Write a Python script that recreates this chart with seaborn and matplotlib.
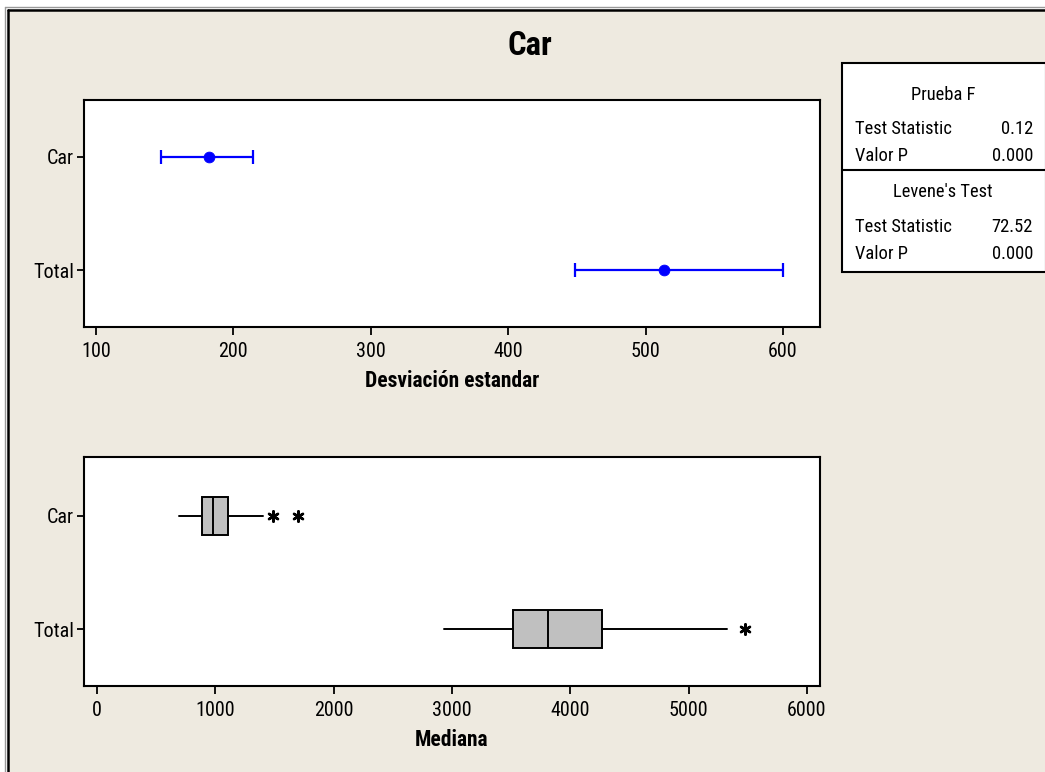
import matplotlib
matplotlib.use("Agg")
import matplotlib.pyplot as plt
import seaborn as sns
import numpy as np
import pandas as pd
from matplotlib.patches import Rectangle
from matplotlib.lines import Line2D
from matplotlib import font_manager

# ---------------- data ----------------
groups = ["Car", "Total"]
sd_point = [182.0, 513.5]
sd_lower = [147.0, 449.0]
sd_upper = [214.5, 600.0]

box_whislo = [693, 2932]
box_q1 = [890, 3518]
box_med = [983, 3814]
box_q3 = [1110, 4265]
box_whishi = [1400, 5324]
outliers_car = [1484, 1696]
outliers_total = [5476]

sd_ticks = [100, 200, 300, 400, 500, 600]
med_ticks = [0, 1000, 2000, 3000, 4000, 5000, 6000]

table_rows = [("Test Statistic", "0.12"), ("Valor P", "0.000"),
              ("Test Statistic", "72.52"), ("Valor P", "0.000")]

# ---------------- style ----------------
sns.set_style("ticks")
names = {f.name for f in font_manager.fontManager.ttflist}
cond = [n for n in ["Liberation Sans Narrow", "DejaVu Sans Condensed", "Roboto Condensed"] if n in names]
FONT = cond + ["DejaVu Sans"]
plt.rcParams["font.family"] = FONT
plt.rcParams["font.stretch"] = "condensed"
for k in ["text.color", "axes.labelcolor", "xtick.color", "ytick.color"]:
    plt.rcParams[k] = "black"
BG = "#EEEAE0"
W, H = 1045, 772
fig = plt.figure(figsize=(W / 100, H / 100), dpi=100, facecolor="white")

def fx(px):
    return px / W

def fy(py):
    return 1 - py / H

# background panel with frame
fig.patches.append(Rectangle((fx(8), 0), 1 - fx(8), fy(10), transform=fig.transFigure,
                             facecolor=BG, edgecolor="none", zorder=-10))
fig.lines.append(Line2D([fx(8), fx(8)], [0, fy(10)], transform=fig.transFigure, color="black", lw=1.8))
fig.lines.append(Line2D([fx(8), 1], [fy(10), fy(10)], transform=fig.transFigure, color="black", lw=1.8))
fig.lines.append(Line2D([fx(5), fx(5)], [0, fy(7)], transform=fig.transFigure, color="#999999", lw=1.0))
fig.lines.append(Line2D([fx(5), 1], [fy(7), fy(7)], transform=fig.transFigure, color="#999999", lw=1.0))

fig.text(fx(530), fy(46), "Car", ha="center", va="center", fontsize=23.5, fontweight="bold")

TICK_FS = 14.5

def style_axes(ax):
    ax.set_facecolor("white")
    for s in ax.spines.values():
        s.set_linewidth(1.5)
        s.set_color("black")
        s.set_visible(True)
    ax.tick_params(axis="both", direction="out", width=1.3, colors="black", labelsize=TICK_FS)
    ax.tick_params(axis="x", length=6, pad=5)
    ax.tick_params(axis="y", length=5, pad=2)

# ---------------- top: SD confidence intervals ----------------
ax1 = fig.add_axes([fx(84), fy(327), fx(820) - fx(84), fy(100) - fy(327)])
style_axes(ax1)
ypos = np.arange(len(groups))
sd_point_a = np.array(sd_point)
xerr = [sd_point_a - np.array(sd_lower), np.array(sd_upper) - sd_point_a]
ax1.errorbar(sd_point_a, ypos, xerr=xerr, fmt="none", ecolor="#0000FF", elinewidth=1.6,
             capsize=5, capthick=1.6)
df_sd = pd.DataFrame({"sd": sd_point, "y": ypos})
sns.scatterplot(data=df_sd, x="sd", y="y", ax=ax1, color="#0000FF", s=60, edgecolor="#0000FF", zorder=5)
ax1.set_xlim(91.3, 627)
ax1.set_ylim(1.5, -0.5)
ax1.set_yticks(ypos)
ax1.set_yticklabels(groups)
ax1.set_xticks(sd_ticks)
ax1.set_xticklabels([str(t) for t in sd_ticks])
ax1.set_xlabel("Desviación estandar", fontsize=15.5, fontweight="bold", labelpad=6)
ax1.set_ylabel("")

# ---------------- bottom: boxplots ----------------
ax2 = fig.add_axes([fx(84), fy(686), fx(820) - fx(84), fy(457) - fy(686)])
style_axes(ax2)
stats = []
for i in range(len(groups)):
    stats.append(dict(whislo=box_whislo[i], q1=box_q1[i], med=box_med[i], q3=box_q3[i],
                      whishi=box_whishi[i], fliers=[], label=groups[i]))
ax2.bxp(stats, positions=ypos, vert=False, widths=0.336, patch_artist=True, showcaps=False,
        showfliers=False,
        boxprops=dict(facecolor="#C0C0C0", edgecolor="black", linewidth=1.4),
        medianprops=dict(color="black", linewidth=1.4),
        whiskerprops=dict(color="black", linewidth=1.4))
df_out = pd.DataFrame({"x": outliers_car + outliers_total,
                       "y": [0] * len(outliers_car) + [1] * len(outliers_total)})
sns.scatterplot(data=df_out, x="x", y="y", ax=ax2, marker=(6, 2, 0), s=55, color="black",
                linewidth=1.8, zorder=5)
ax2.set_xlim(-110, 6110)
ax2.set_ylim(1.5, -0.52)
ax2.set_yticks(ypos)
ax2.set_yticklabels(groups)
ax2.set_xticks(med_ticks)
ax2.set_xticklabels([str(t) for t in med_ticks])
ax2.set_xlabel("Mediana", fontsize=15.5, fontweight="bold", labelpad=6)
ax2.set_ylabel("")

# ---------------- stats table ----------------
tb_l, tb_r, tb_t, tb_b, tb_mid = 842, 1046, 63, 272, 170
fig.patches.append(Rectangle((fx(tb_l), fy(tb_b)), fx(tb_r) - fx(tb_l), fy(tb_t) - fy(tb_b),
                             transform=fig.transFigure, facecolor="white", edgecolor="black",
                             lw=1.5, zorder=1))
fig.lines.append(Line2D([fx(tb_l), fx(tb_r)], [fy(tb_mid), fy(tb_mid)], transform=fig.transFigure,
                        color="black", lw=1.5, zorder=2))
tcx = (tb_l + 1044) / 2
TFS = 13.3
fig.text(fx(tcx), fy(95), "Prueba F", ha="center", va="center", fontsize=TFS, zorder=3)
fig.text(fx(tcx), fy(192), "Levene's Test", ha="center", va="center", fontsize=TFS, zorder=3)
row_y = [129, 156, 227, 254]
for (lab, val), yy in zip(table_rows, row_y):
    fig.text(fx(855), fy(yy), lab, ha="left", va="center", fontsize=TFS, zorder=3)
    fig.text(fx(1033), fy(yy), val, ha="right", va="center", fontsize=TFS, zorder=3)

fig.savefig("out.png", dpi=100, facecolor=fig.get_facecolor())
